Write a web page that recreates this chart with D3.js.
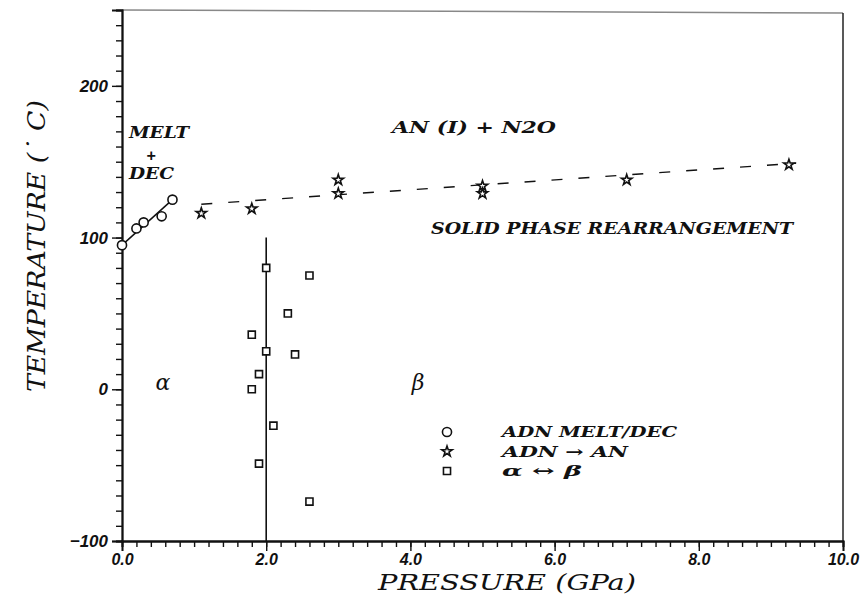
<!DOCTYPE html>
<html>
<head>
<meta charset="utf-8">
<script src="https://cdn.jsdelivr.net/npm/d3@7"></script>
<style>
  html, body { margin: 0; padding: 0; background: #fff; }
  svg { display: block; }
</style>
</head>
<body>
<svg id="chart" width="867" height="599"></svg>
<script>
// ADN melt / decomposition points (pressure GPa, temperature °C)
const meltP = [0.0, 0.2, 0.3, 0.55, 0.7];
const meltT = [95, 106, 110, 114, 125];

// ADN -> AN transformation points
const anP = [1.1, 1.8, 3.0, 3.0, 5.0, 5.0, 7.0, 9.25];
const anT = [116, 119, 138, 129, 134, 129, 138, 148];

// alpha <-> beta transition points
const abP = [2.0, 2.6, 2.3, 1.8, 2.0, 2.4, 1.9, 1.8, 2.1, 1.9, 2.6];
const abT = [80, 75, 50, 36, 25, 23, 10, 0, -24, -49, -74];

// fitted boundaries
const meltLineP = [0.0, 0.7];
const meltLineT = [95, 125];
const anLineP = [1.1, 9.35];
const anLineT = [122, 149];
const abLineP = [2.0, 2.0];
const abLineT = [100, -100];

// axis ticks
const xMajor = [0, 2, 4, 6, 8, 10];
const yMajor = [-100, 0, 100, 200];

const svg = d3.select("#chart");
const x = d3.scaleLinear().domain([0, 10]).range([122, 843]);
const y = d3.scaleLinear().domain([-100, 250]).range([541, 10]);

const serif = "'DejaVu Serif', serif";
const sans = "'Liberation Sans', Arial, sans-serif";

// frame: top and right borders
svg.append("line")
  .attr("x1", x(0)).attr("x2", x(10)).attr("y1", y(250)).attr("y2", y(250) + 3)
  .attr("stroke", "#888").attr("stroke-width", 1.5);
svg.append("line")
  .attr("x1", x(10)).attr("x2", x(10)).attr("y1", y(250) + 3).attr("y2", y(-100))
  .attr("stroke", "#222").attr("stroke-width", 1.5);

// x axis: minor ticks every 0.2, labelled ticks every 2
const xMinor = d3.range(0, 10.001, 0.2);
const gx = svg.append("g").attr("transform", `translate(0,${y(-100)})`);
gx.call(d3.axisBottom(x).tickValues(xMinor).tickSize(6).tickFormat(""));
gx.append("g").call(d3.axisBottom(x).tickValues(xMajor).tickSize(10)
  .tickFormat(d3.format(".1f")).tickPadding(3));
gx.selectAll("path.domain").attr("stroke", "#111").attr("stroke-width", 1.8);
gx.selectAll(".tick line").attr("stroke", "#111").attr("stroke-width", 1.4);
gx.selectAll(".tick text")
  .attr("font-family", sans).attr("font-weight", "bold").attr("font-style", "italic")
  .attr("font-size", 16).attr("fill", "#111");

// y axis: minor ticks every 10, labelled ticks every 100
const yMinor = d3.range(-100, 250.001, 10);
const gy = svg.append("g").attr("transform", `translate(${x(0)},0)`);
gy.call(d3.axisLeft(y).tickValues(yMinor).tickSize(6).tickFormat(""));
gy.append("g").call(d3.axisLeft(y).tickValues(yMajor).tickSize(10)
  .tickFormat(d3.format("d")).tickPadding(4));
gy.selectAll("path.domain").attr("stroke", "#111").attr("stroke-width", 1.8);
gy.selectAll(".tick line").attr("stroke", "#111").attr("stroke-width", 1.4);
gy.selectAll(".tick text")
  .attr("font-family", sans).attr("font-weight", "bold").attr("font-style", "italic")
  .attr("font-size", 17).attr("fill", "#111");

// axis titles
svg.append("text")
  .attr("x", 507).attr("y", 590).attr("text-anchor", "middle")
  .attr("font-family", serif).attr("font-style", "italic").attr("font-size", 23)
  .attr("textLength", 258).attr("lengthAdjust", "spacingAndGlyphs")
  .attr("fill", "#111").text("PRESSURE  (GPa)");
svg.append("text")
  .attr("transform", "translate(45,246) rotate(-90)").attr("text-anchor", "middle")
  .attr("font-family", serif).attr("font-style", "italic").attr("font-size", 24)
  .attr("textLength", 292).attr("lengthAdjust", "spacingAndGlyphs")
  .attr("fill", "#111").text("TEMPERATURE  (\u02D9 C)");

// phase boundaries
const pair = (P, T) => P.map((p, i) => [x(p), y(T[i])]);
const line = d3.line();
svg.append("path").attr("d", line(pair(meltLineP, meltLineT)))
  .attr("fill", "none").attr("stroke", "#111").attr("stroke-width", 1.5);
svg.append("path").attr("d", line(pair(anLineP, anLineT)))
  .attr("fill", "none").attr("stroke", "#111").attr("stroke-width", 1.4)
  .attr("stroke-dasharray", "11,16");
svg.append("path").attr("d", line(pair(abLineP, abLineT)))
  .attr("fill", "none").attr("stroke", "#111").attr("stroke-width", 1.6);

// markers
const sym = {
  circle: d3.symbol().type(d3.symbolCircle).size(65)(),
  star: d3.symbol().type(d3.symbolStar).size(34)(),
  square: d3.symbol().type(d3.symbolSquare).size(50)()
};
function markers(P, T, shape) {
  svg.append("g").selectAll("path").data(P.map((p, i) => [p, T[i]])).join("path")
    .attr("d", sym[shape])
    .attr("transform", d => `translate(${x(d[0])},${y(d[1])})`)
    .attr("fill", "#fff").attr("stroke", "#111").attr("stroke-width", 1.6);
}
markers(meltP, meltT, "circle");
markers(anP, anT, "star");
markers(abP, abT, "square");

// region labels
function label(tx, ty, str, opts = {}) {
  const t = svg.append("text").attr("x", tx).attr("y", ty)
    .attr("font-family", opts.family || serif).attr("font-style", "italic")
    .attr("font-weight", opts.weight || "bold").attr("font-size", opts.size || 16)
    .attr("fill", "#111").attr("text-anchor", opts.anchor || "start").text(str);
  if (opts.len) t.attr("textLength", opts.len).attr("lengthAdjust", "spacingAndGlyphs");
  return t;
}
label(129, 138, "MELT", { len: 60 });
label(151, 161, "+", { anchor: "middle", family: sans });
label(129, 179, "DEC", { len: 45 });
label(392, 133, "AN  (I)  +  N2O", { len: 164 });
label(431, 234, "SOLID  PHASE  REARRANGEMENT", { len: 362 });
label(163, 390, "\u03B1", { anchor: "middle", size: 22, weight: "normal" });
label(418, 390, "\u03B2", { anchor: "middle", size: 22, weight: "normal" });

// legend
const legend = [
  { shape: "circle", text: "ADN  MELT/DEC", len: 175 },
  { shape: "star", text: "ADN  \u2192   AN", len: 126 },
  { shape: "square", text: "\u03B1   \u2194   \u03B2", len: 80 }
];
legend.forEach((d, i) => {
  const cy = 432 + i * 19.5;
  svg.append("path").attr("d", sym[d.shape]).attr("transform", `translate(447,${cy})`)
    .attr("fill", "#fff").attr("stroke", "#111").attr("stroke-width", 1.6);
  label(502, cy + 5, d.text, { len: d.len, size: 15 });
});
</script>
</body>
</html>
